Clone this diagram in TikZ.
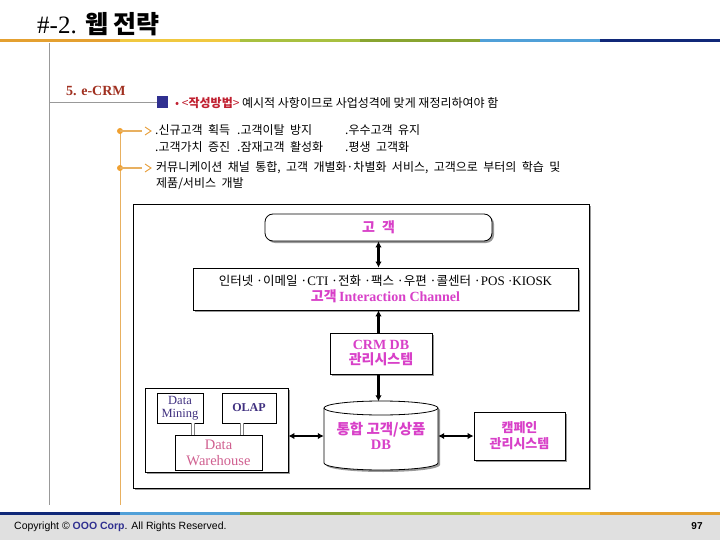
\documentclass[tikz,border=0pt]{standalone}
\usepackage{fontspec}
\setmainfont{Liberation Serif}
\setsansfont{Liberation Sans}
\newfontfamily\kr{Noto Sans CJK KR}
\newcommand\widesp{\spaceskip=0.45em\relax}
\usetikzlibrary{arrows.meta,positioning,calc,shadows}

\definecolor{barorange}{RGB}{228,160,48}
\definecolor{baryellow}{RGB}{240,200,64}
\definecolor{bargreen}{RGB}{168,192,64}
\definecolor{barolive}{RGB}{136,164,48}
\definecolor{barblue}{RGB}{80,160,216}
\definecolor{barnavy}{RGB}{16,40,120}
\definecolor{crmred}{RGB}{160,48,32}
\definecolor{notered}{RGB}{192,32,48}
\definecolor{squarenavy}{RGB}{48,48,144}
\definecolor{linkorange}{RGB}{232,176,96}
\definecolor{dotorange}{RGB}{240,160,48}
\definecolor{magtxt}{RGB}{216,64,200}
\definecolor{pinktxt}{RGB}{208,96,144}
\definecolor{purpletxt}{RGB}{64,48,128}
\definecolor{footgray}{RGB}{224,224,224}

\tikzset{
  box/.style={draw,fill=white,line width=0.8pt,inner sep=2pt,align=center,
    drop shadow={shadow xshift=2pt,shadow yshift=-2pt,fill=gray!80,opacity=1}},
  innerbox/.style={draw,fill=white,line width=0.5pt,inner sep=0pt,align=center},
  magbold/.style={text=magtxt,font=\bfseries\fontsize{14}{15}\selectfont},
  link/.style={line width=2.6pt,{Latex[length=6pt,width=6.5pt]}-{Latex[length=6pt,width=6.5pt]}},
  bartrack/.style={line width=3pt},
  dbline/.style={gray,line width=0.7pt,double=white,double distance=1.8pt},
  txt/.style={inner sep=0pt,anchor=west,align=left,font=\kr\fontsize{12}{16}\selectfont\widesp}
}

\begin{document}
\begin{tikzpicture}[x=1pt,y=-1pt]
  \useasboundingbox (0,0) rectangle (720,540);

  % title and colour bar
  \node[anchor=west,inner sep=0pt] (title) at (37,24)
    {\fontsize{25}{27}\selectfont \#-2. {\kr\bfseries 웹 전략}};
  \foreach \c [count=\i from 0] in {barorange,baryellow,bargreen,barolive,barblue,barnavy}
    \draw[bartrack,\c] (\i*120,41) -- (\i*120+120,41);

  % left guide lines
  \draw[gray!80,line width=0.8pt] (49,43) -- (49,505);
  \draw[gray!80,line width=0.8pt] (49,102) -- (157,102);
  \draw[linkorange,line width=1pt] (120,131) -- (120,505);
  \node[anchor=west,inner sep=0pt,text=crmred] (sect) at (66,91)
    {\bfseries\fontsize{14}{16}\selectfont 5. e-CRM};
  \fill[squarenavy] (157,96) rectangle (168,108);
  \node[txt,font=\kr\fontsize{12}{14}\selectfont] (note) at (175,103)
    {\textcolor{notered}{• <\textbf{작성방법}>} 예시적 사항이므로 사업성격에 맞게 재정리하여야 함};

  % bullets
  \foreach \y in {131,168}{
    \fill[dotorange] (120,\y) circle (3pt);
    \draw[linkorange,line width=1.2pt] (120,\y) -- (142,\y);
    \draw[dotorange!80!brown,line width=0.9pt,line join=miter] (145,\y-4) -- (151,\y) -- (145,\y+4);
  }
  \node[txt,font=\kr\fontsize{12}{17}\selectfont] (goals) at (155,139.5)
    {\widesp\begin{tabular}{@{}p{82pt}@{}p{108pt}@{}l@{}}
      \widesp.신규고객 획득 & \widesp.고객이탈 방지 & \widesp.우수고객 유지\\
      \widesp.고객가치 증진 & \widesp.잠재고객 활성화 & \widesp.평생 고객화
    \end{tabular}};
  \node[txt] (strategy) at (156,176)
    {커뮤니케이션 채널 통합, 고객 개별화·차별화 서비스, 고객으로 부터의 학습 및\\제품/서비스 개발};

  % diagram frame
  \path[draw,fill=white,line width=0.8pt,drop shadow={shadow xshift=2pt,shadow yshift=-2pt,fill=gray!80,opacity=1}]
    (133,204) rectangle (589,488);

  \node[box,rounded corners=8pt,minimum width=227pt,minimum height=27pt,magbold,font=\kr\bfseries\fontsize{14}{15}\selectfont]
    (cust) at (378.5,227.5) {고\hspace{0.5em}객};
  \node[box,minimum width=385pt,minimum height=42pt] (chan) at (385.5,289)
    {{\kr\fontsize{12.5}{13}\selectfont 인터넷 ·이메일 ·}{\fontsize{13}{13}\selectfont CTI}{\kr\fontsize{12.5}{13}\selectfont\ ·전화 ·팩스 ·우편 ·콜센터 ·}{\fontsize{13}{13}\selectfont POS ·KIOSK}\\[2pt]
     {\color{magtxt}\bfseries{\kr\fontsize{14}{15}\selectfont 고객} \fontsize{14}{15}\selectfont Interaction Channel}};
  \node[box,minimum width=102pt,minimum height=41pt,magbold] (crmdb) at (381,353.5)
    {CRM DB\\{\kr 관리시스템}};

  % integrated database (cylinder)
  \path[draw,fill=white,line width=0.8pt,drop shadow={shadow xshift=2pt,shadow yshift=-2pt,fill=gray!80,opacity=1}]
    (324,408) -- (324,463) arc[start angle=180,end angle=360,x radius=57pt,y radius=7pt]
    -- (438,408) arc[start angle=0,end angle=180,x radius=57pt,y radius=7pt] -- cycle;
  \draw[line width=0.8pt] (324,408) arc[start angle=180,end angle=360,x radius=57pt,y radius=7pt];
  \node[minimum width=114pt,minimum height=69pt,inner sep=0pt,magbold,align=center,font=\bfseries\fontsize{14.5}{17}\selectfont] (db) at (381,436)
    {\raisebox{-2pt}{\kr 통합 고객/상품}\\DB};

  % warehouse group
  \node[box,minimum width=143pt,minimum height=84pt] (dwframe) at (216.5,430) {};
  \node[innerbox,minimum width=46pt,minimum height=30pt,text=purpletxt,font=\fontsize{12.5}{13}\selectfont]
    (mining) at (180,408) {Data\\Mining};
  \node[innerbox,minimum width=54pt,minimum height=30pt,text=purpletxt,font=\bfseries\fontsize{12}{13}\selectfont]
    (olap) at (249,408) {OLAP};
  \node[innerbox,minimum width=87pt,minimum height=35pt,text=pinktxt,font=\fontsize{14.5}{16}\selectfont]
    (dw) at (218.5,452.5) {Data\\Warehouse};
  \coordinate (dmx) at (193,0);
  \coordinate (olx) at (242,0);
  \draw[dbline] (mining.south -| dmx) -- (dw.north -| dmx);
  \draw[dbline] (olap.south -| olx) -- (dw.north -| olx);

  % campaign system
  \node[box,minimum width=91pt,minimum height=48pt,magbold,font=\kr\bfseries\fontsize{13}{16}\selectfont]
    (camp) at (519.5,436) {캠페인\\관리시스템};

  % connectors
  \draw[link] (cust.south) -- (cust.south |- chan.north);
  \draw[line width=2.6pt,{Latex[length=6pt,width=6.5pt]}-] (chan.south -| cust.south) -- (crmdb.north -| cust.south);
  \draw[line width=2.6pt,-{Latex[length=6pt,width=6.5pt]}] (crmdb.south -| cust.south) -- (db.north -| cust.south);
  \draw[link] (dwframe.east |- db.west) -- (db.west);
  \draw[link] (db.east) -- (camp.west);

  % footer
  \fill[footgray] (0,515) rectangle (720,540);
  \foreach \c [count=\i from 0] in {barnavy,barblue,barolive,bargreen,baryellow,barorange}
    \draw[bartrack,\c] (\i*120,513) -- (\i*120+120,513);
  \node[anchor=west,inner sep=0pt,font=\sffamily\fontsize{10.5}{11}\selectfont] (copy) at (14,527)
    {Copyright © \textcolor{squarenavy}{\bfseries OOO Corp}. All Rights Reserved.};
  \node[inner sep=0pt,font=\sffamily\bfseries\fontsize{10}{11}\selectfont] (page) at (697,526) {97};
\end{tikzpicture}
\end{document}
